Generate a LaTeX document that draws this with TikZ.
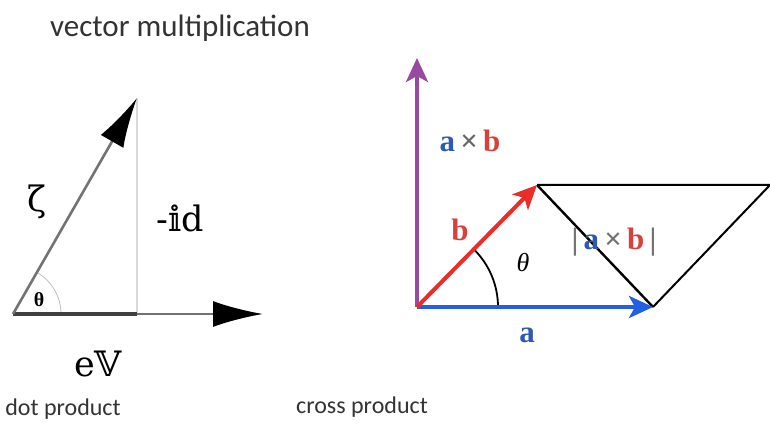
\documentclass[tikz,border=0pt]{standalone}
\usepackage{fontspec}
\setmainfont{Liberation Serif}
\setsansfont{Carlito}
\newfontfamily\dvfont{DejaVu Serif}
\usetikzlibrary{arrows.meta, positioning}
\definecolor{vecblue}{RGB}{35,95,225}
\definecolor{vecred}{RGB}{235,45,40}
\definecolor{vecpurple}{RGB}{150,75,160}
\definecolor{lblblue}{RGB}{45,90,175}
\definecolor{lblred}{RGB}{215,65,60}

\begin{document}
\begin{tikzpicture}[
  x=1pt, y=1pt,
  caption/.style={font=\sffamily\fontsize{24}{26}\selectfont, text=black!80},
  dotlabel/.style={font=\dvfont\fontsize{35}{38}\selectfont},
  boldlabel/.style={font=\bfseries\fontsize{31}{34}\selectfont},
  bigtip/.style={-{Latex[length=50pt,width=26pt,black]}},
  tip/.style={-{Stealth[length=24pt,width=22pt,inset=6pt]}}
]
\useasboundingbox (0,0) rectangle (770,431);

% dot product
\coordinate (o1) at (13,117);
\coordinate (zt) at (137,333);
\coordinate (ft) at (137,117);
\coordinate (ht) at (263,117);
\draw [black!15, line width=1.4pt] (ft) -- (zt);
\draw [black!25, line width=0.8pt] ([shift={(48,0)}]o1) arc (0:60:48);
\draw [black!55, line width=2.4pt, bigtip] (ft) -- (ht);
\draw [black!75, line width=3.5pt] (o1) -- (ft);
\draw [black!55, line width=2.6pt, bigtip] (o1) -- (zt);
\node (theta1) at (39,131) {\bfseries\fontsize{20}{22}\selectfont θ};
\node (zeta) [dotlabel] at (37,229) {ζ};
\node (id) [dotlabel] at (180,213) {-𝕚d};
\node (ev) [dotlabel] at (98,67) {e𝕍};
\node (dotcap) [caption] at (63,22) {dot product};

% cross product
\coordinate (o2) at (417,124);
\coordinate (at) at (653,124);
\coordinate (bt) at (537,246);
\coordinate (ct) at (770,246);
\coordinate (ut) at (417,373);
\draw [black, line width=2pt] (bt) -- (ct) -- (at);
\draw [black, line width=2.4pt] (bt) -- (at);
\draw [black, line width=1.8pt] ([shift={(81,0)}]o2) arc (0:45:81);
\draw [vecpurple, line width=4pt, tip] (o2) -- (ut);
\draw [vecblue, line width=4pt, tip] (o2) -- (at);
\draw [vecred, line width=4pt, tip] (o2) -- (bt);
\node (axb) [boldlabel] at (470,290) {\textcolor{lblblue}{a}\,\textcolor{black!60}{×}\,\textcolor{lblred}{b}};
\node (blbl) [boldlabel, text=lblred] at (460,201) {b};
\node (alb) [boldlabel, text=lblblue] at (527,96) {a};
\node (theta2) at (523,168) {\itshape\fontsize{26}{28}\selectfont θ};
\node (norm) [boldlabel] at (614,189) {\textcolor{black!55}{|}\,\textcolor{lblblue}{a}\,\textcolor{black!55}{×}\,\textcolor{lblred}{b}\,\textcolor{black!55}{|}};
\node (crosscap) [caption] at (362,24) {cross product};

\node (title) [caption, font=\sffamily\fontsize{31}{34}\selectfont] at (180,403) {vector multiplication};
\end{tikzpicture}
\end{document}
